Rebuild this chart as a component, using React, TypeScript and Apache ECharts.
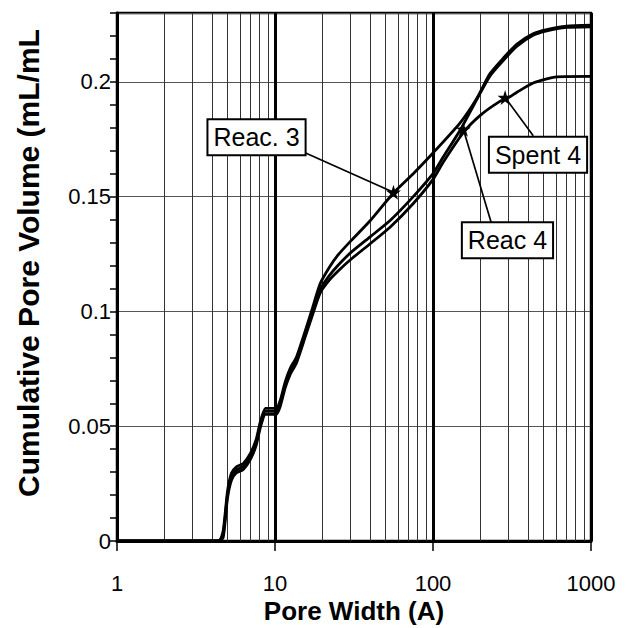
import React, { useEffect, useRef } from "react";
import * as echarts from "echarts";

// ---- data ----
const reac3X = [1, 4.4, 4.7, 5.0, 5.3, 5.7, 6.3, 7.0, 7.6, 8.1, 8.7, 9.5, 10.2, 10.8, 11.6, 12.5, 13.7, 15.5, 17, 19.3, 22, 25, 30, 40, 56, 75, 100, 148, 190, 229, 280, 340, 430, 525, 700, 1000];
const reac3Y = [0, 0, 0.0045, 0.0215, 0.0295, 0.0323, 0.0338, 0.0383, 0.0443, 0.0523, 0.0578, 0.0578, 0.0578, 0.0613, 0.0693, 0.0753, 0.0803, 0.0913, 0.1, 0.112, 0.119, 0.1245, 0.1305, 0.1395, 0.1515, 0.16, 0.169, 0.182, 0.193, 0.2035, 0.2105, 0.2165, 0.221, 0.2228, 0.2243, 0.2247];

const reac4X = [1, 4.4, 4.7, 5.0, 5.3, 5.7, 6.3, 7.0, 7.6, 8.1, 8.7, 9.5, 10.2, 10.8, 11.6, 12.5, 13.7, 15.5, 17, 19.3, 22, 25, 30, 40, 53.5, 75, 100, 113, 150, 190, 229, 280, 340, 430, 525, 700, 1000];
const reac4Y = [0, 0, 0.003, 0.02, 0.028, 0.031, 0.0325, 0.037, 0.043, 0.051, 0.0565, 0.0565, 0.0565, 0.06, 0.068, 0.074, 0.079, 0.09, 0.0985, 0.1095, 0.1155, 0.12, 0.1255, 0.1325, 0.1396, 0.15, 0.16, 0.166, 0.1795, 0.1925, 0.2025, 0.2095, 0.2155, 0.2203, 0.2222, 0.2237, 0.224];

const spent4X = [1, 4.4, 4.7, 5.0, 5.3, 5.7, 6.3, 7.0, 7.6, 8.1, 8.7, 9.5, 10.2, 10.8, 11.6, 12.5, 13.7, 15.5, 17, 19.3, 22, 25, 30, 40, 53.5, 75, 100, 116, 156, 200, 265, 307, 340, 431, 606, 1000];
const spent4Y = [0, 0, 0.0015, 0.0185, 0.0265, 0.0297, 0.0312, 0.0357, 0.0417, 0.0497, 0.0552, 0.0552, 0.0552, 0.0587, 0.0667, 0.0727, 0.0777, 0.0887, 0.097, 0.108, 0.1135, 0.1175, 0.1225, 0.1295, 0.1367, 0.147, 0.1575, 0.165, 0.178, 0.1855, 0.1915, 0.1935, 0.1955, 0.1995, 0.2022, 0.2024];

const minorGridX = [2, 3, 4, 5, 6, 7, 8, 9, 20, 30, 40, 50, 60, 70, 80, 90, 200, 300, 400, 500, 600, 700, 800, 900];

const labelNames = ["Reac. 3", "Spent 4", "Reac 4"];
const labelPos = [[7.64, 0.1759], [462, 0.1683], [296, 0.131]];
const arrowStart = [[15.5, 0.1691], [431, 0.1765], [235, 0.1381]];
const arrowEnd = [[56.2, 0.1519], [286, 0.1932], [155.6, 0.1794]];

const FONT = 'Arial, "Liberation Sans", sans-serif';
const STAR = "path://M50,0 L61,35 L98,35 L68,57 L79,91 L50,70 L21,91 L32,57 L2,35 L39,35 Z";

const zip = (xs: number[], ys: number[]) => xs.map((x, i) => [x, ys[i]]);

export default function App() {
  const ref = useRef<HTMLDivElement>(null);
  useEffect(() => {
    if (!ref.current) return;
    const chart = echarts.init(ref.current, undefined, { renderer: "svg" });
    const curve = (name: string, data: number[][]) => ({
      name,
      type: "line",
      data,
      showSymbol: false,
      symbol: "none",
      smooth: 0.2,
      lineStyle: { color: "#000", width: 2.8 },
      z: 5,
    });
    const arrows = arrowStart.map((s, i) => ({
      type: "line",
      data: [s, arrowEnd[i]],
      symbol: "none",
      lineStyle: { color: "#000", width: 1.7 },
      z: 6,
    }));
    chart.setOption({
      animation: false,
      backgroundColor: "#fff",
      grid: {
        left: 117,
        right: 38,
        top: 13,
        bottom: 87,
        outerBoundsMode: "none",
        containLabel: false,
        show: true,
        borderColor: "#000",
        borderWidth: 2.5,
        backgroundColor: "transparent",
      },
      xAxis: {
        type: "log",
        logBase: 10,
        min: 1,
        max: 1000,
        name: "Pore Width (A)",
        nameLocation: "middle",
        nameGap: 59,
        nameMoveOverlap: false,
        nameTextStyle: { fontFamily: FONT, fontWeight: "bold", fontSize: 26, lineHeight: 22, color: "#000" },
        axisLine: { show: true, lineStyle: { color: "#000", width: 3 } },
        axisTick: { show: true, inside: false, length: 10, lineStyle: { color: "#000", width: 1.5 } },
        axisLabel: {
          fontFamily: FONT,
          fontSize: 22,
          lineHeight: 19,
          color: "#000",
          margin: 33,
          formatter: (v: number) => String(Math.round(v)),
        },
        splitLine: { show: true, lineStyle: { color: "#000", width: 3 } },
      },
      yAxis: {
        type: "value",
        min: 0,
        max: 0.23,
        interval: 0.05,
        name: "Cumulative Pore Volume (mL/mL",
        nameLocation: "middle",
        nameGap: 74,
        nameMoveOverlap: false,
        nameTextStyle: { fontFamily: FONT, fontWeight: "bold", fontSize: 30, color: "#000", padding: [0, 0, 0, 28] },
        axisLine: { show: true, lineStyle: { color: "#000", width: 3 } },
        axisTick: { show: true, inside: false, length: 7, lineStyle: { color: "#000", width: 1.5 } },
        minorTick: { show: true, splitNumber: 5, length: 7, lineStyle: { color: "#000", width: 1.5 } },
        axisLabel: { fontFamily: FONT, fontSize: 22, color: "#000", margin: 6, showMaxLabel: false },
        splitLine: { show: true, lineStyle: { color: "#555", width: 1 } },
      },
      series: [
        {
          name: "minorGrid",
          type: "line",
          data: [],
          z: 1,
          markLine: {
            silent: true,
            symbol: "none",
            label: { show: false },
            lineStyle: { color: "#333", width: 1, type: "solid" },
            data: minorGridX.map((v) => ({ xAxis: v })),
          },
        },
        curve("Reac. 3", zip(reac3X, reac3Y)),
        curve("Reac 4", zip(reac4X, reac4Y)),
        curve("Spent 4", zip(spent4X, spent4Y)),
        ...arrows,
        {
          name: "stars",
          type: "scatter",
          data: arrowEnd,
          symbol: STAR,
          symbolSize: 15,
          itemStyle: { color: "#000", opacity: 1 },
          z: 7,
        },
        {
          name: "labels",
          type: "scatter",
          data: labelPos.map((p, i) => ({ name: labelNames[i], value: p })),
          symbolSize: 0,
          itemStyle: { opacity: 1 },
          z: 10,
          label: {
            show: true,
            position: "inside",
            formatter: "{b}",
            fontFamily: FONT,
            fontSize: 25,
            lineHeight: 30,
            color: "#000",
            opacity: 1,
            backgroundColor: "#fff",
            borderColor: "#000",
            borderWidth: 2,
            padding: [3, 5, 1, 5],
          },
        },
      ],
    });
    return () => chart.dispose();
  }, []);
  return (
    <div
      ref={ref}
      style={{ position: "fixed", left: 0, top: 0, width: 629, height: 628, background: "#fff" }}
    />
  );
}
